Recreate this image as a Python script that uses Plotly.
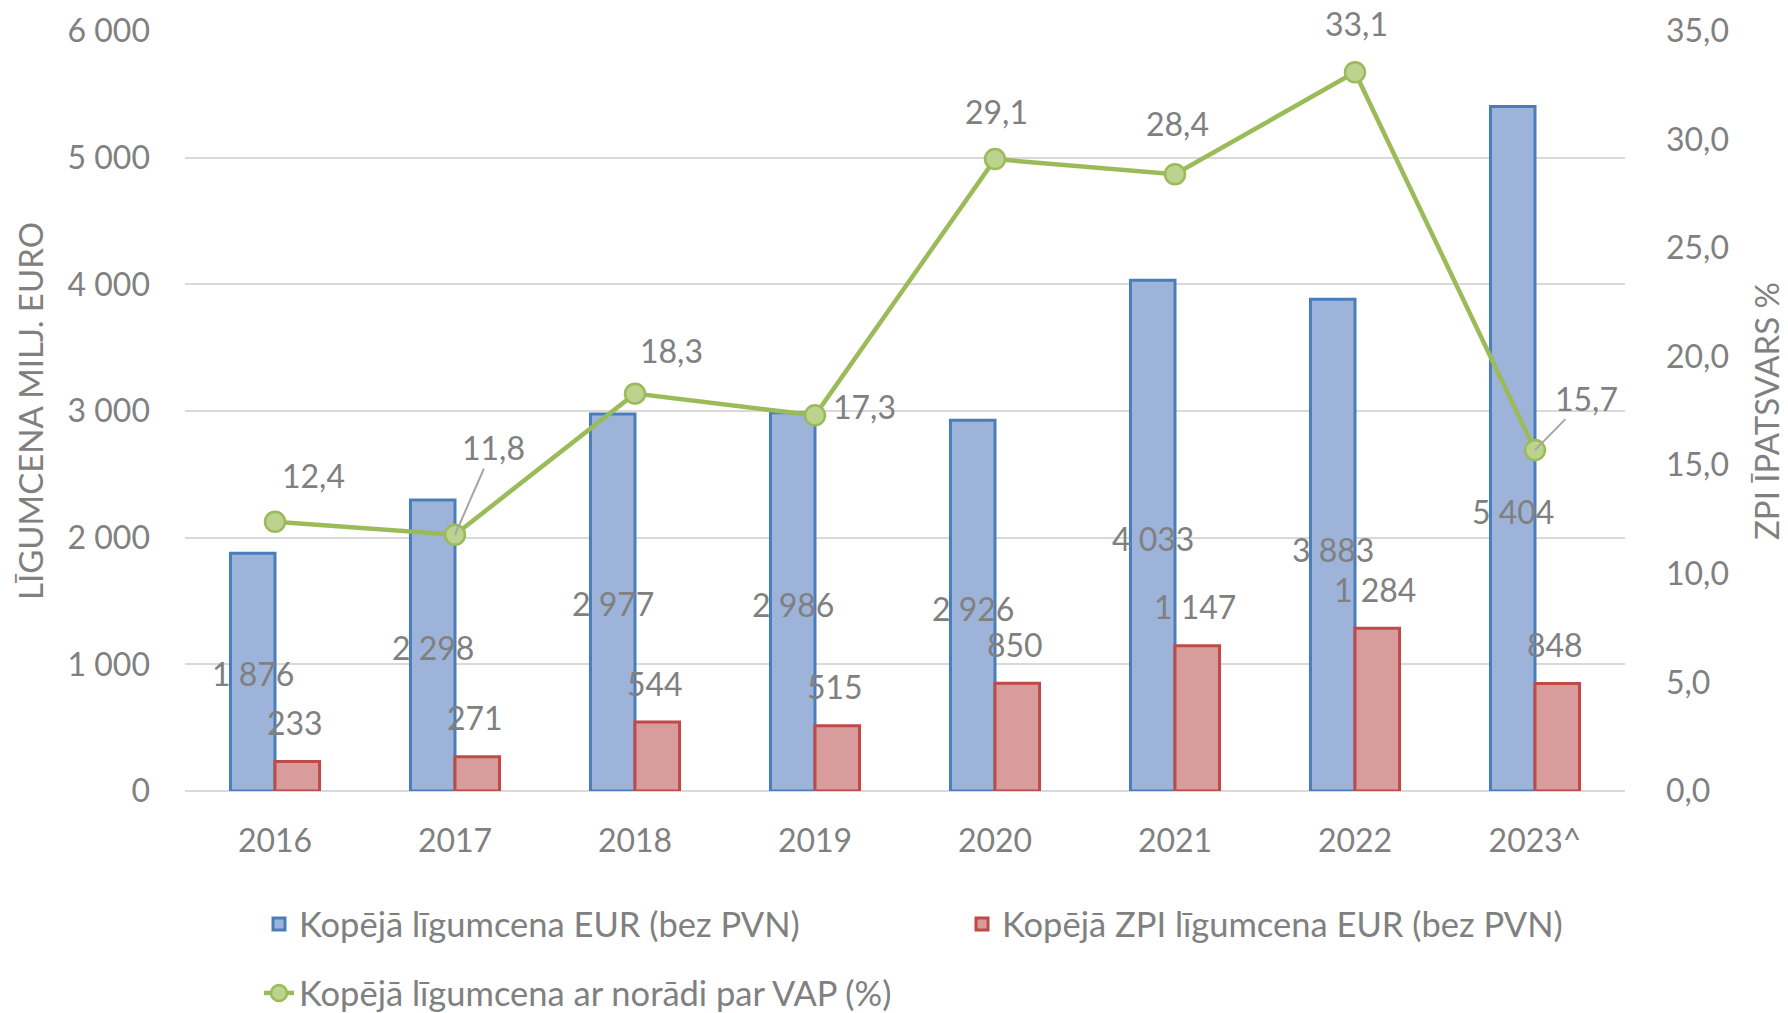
import plotly.graph_objects as go

# ---------------- data ----------------
years = ["2016", "2017", "2018", "2019", "2020", "2021", "2022", "2023^"]
total_value = [1876, 2298, 2977, 2986, 2926, 4033, 3883, 5404]
zpi_value = [233, 271, 544, 515, 850, 1147, 1284, 848]
zpi_share = [12.4, 11.8, 18.3, 17.3, 29.1, 28.4, 33.1, 15.7]

left_ticks = [0, 1000, 2000, 3000, 4000, 5000, 6000]
right_ticks = [0, 5, 10, 15, 20, 25, 30, 35]

name_total = "Kopējā līgumcena EUR (bez PVN)"
name_zpi = "Kopējā ZPI līgumcena EUR (bez PVN)"
name_share = "Kopējā līgumcena ar norādi par VAP (%)"

# ---------------- label placement (pixels, styling only) ----------------
total_label_dy = [-120, -148, -190, -192, -188, -258, -250, -405]
zpi_label_dy = [39, 39, 39, 39, 39, 39, 39, 39]
share_label_dx = [38, 38, 36, 49, 1, 2, 1, 51]
share_label_dy = [46, 87, 43, 9, 48, 51, 49, 52]
share_leader = [False, True, False, False, False, False, False, True]

# ---------------- layout geometry ----------------
W, H = 1788, 1013
ML, MR, MT, MB = 185, 163, 31, 222
plot_w = W - ML - MR
plot_h = H - MT - MB
bargap = 0.505
bar_w = plot_w / len(years) * (1 - bargap) / 2

FONT = "Lato, 'Open Sans', sans-serif"
GRAY = "#808080"
BLUE_FILL = "#9DB3D9"
BLUE_LINE = "#4A7EBB"
RED_FILL = "#D89C9C"
RED_LINE = "#BE4B48"
GREEN = "#9BBB59"
GREEN_FILL = "#BCD28F"


def fmt_int(v):
    return f"{v:,}".replace(",", " ")


def fmt_dec(v):
    return f"{v:.1f}".replace(".", ",")


fig = go.Figure()

fig.add_trace(go.Bar(
    x=years, y=total_value, name=name_total,
    marker=dict(color=BLUE_FILL, line=dict(color=BLUE_LINE, width=3)),
    legend="legend",
))
fig.add_trace(go.Bar(
    x=years, y=zpi_value, name=name_zpi,
    marker=dict(color=RED_FILL, line=dict(color=RED_LINE, width=3)),
    legend="legend2",
))
fig.add_trace(go.Scatter(
    x=years, y=zpi_share, name=name_share, yaxis="y2",
    mode="lines+markers",
    line=dict(color=GREEN, width=4.5),
    marker=dict(size=20, color=GREEN_FILL, line=dict(color=GREEN, width=2.5)),
    legend="legend3",
))

annotations = []
for i, yr in enumerate(years):
    # category index i is the position of category years[i] on the x axis
    annotations.append(dict(
        x=i, y=total_value[i], xref="x", yref="y",
        text=fmt_int(total_value[i]), showarrow=False,
        xshift=-bar_w / 2, yshift=total_label_dy[i],
        font=dict(family=FONT, size=32, color=GRAY),
    ))
    annotations.append(dict(
        x=i, y=zpi_value[i], xref="x", yref="y",
        text=fmt_int(zpi_value[i]), showarrow=False,
        xshift=bar_w / 2 - 2, yshift=zpi_label_dy[i],
        font=dict(family=FONT, size=32, color=GRAY),
    ))
    if share_leader[i]:
        annotations.append(dict(
            x=i, y=zpi_share[i], xref="x", yref="y2",
            text=fmt_dec(zpi_share[i]), showarrow=True,
            arrowhead=0, arrowwidth=2, arrowcolor="#A6A6A6",
            ax=share_label_dx[i], ay=-share_label_dy[i], standoff=0,
            font=dict(family=FONT, size=32, color=GRAY),
        ))
    else:
        annotations.append(dict(
            x=i, y=zpi_share[i], xref="x", yref="y2",
            text=fmt_dec(zpi_share[i]), showarrow=False,
            xshift=share_label_dx[i], yshift=share_label_dy[i],
            font=dict(family=FONT, size=32, color=GRAY),
        ))

legend_common = dict(
    orientation="h", yanchor="middle", xanchor="left",
    font=dict(family=FONT, size=34.5, color=GRAY),
    bgcolor="rgba(0,0,0,0)", itemwidth=30,
)

row1 = (MT + plot_h - 924) / plot_h
row2 = (MT + plot_h - 993) / plot_h

fig.update_layout(
    width=W, height=H,
    margin=dict(l=ML, r=MR, t=MT, b=MB, pad=0, autoexpand=False),
    paper_bgcolor="white", plot_bgcolor="white",
    separators=", ",
    barmode="group", bargap=bargap, bargroupgap=0,
    font=dict(family=FONT, size=32, color=GRAY),
    xaxis=dict(
        type="category", showgrid=False, showline=False, zeroline=False,
        ticks="", tickfont=dict(family=FONT, size=32, color=GRAY),
        ticklabelstandoff=28,
    ),
    yaxis=dict(
        range=[0, 6000], tickvals=left_ticks, tickformat=",d",
        showgrid=True, gridcolor="#D9D9D9", gridwidth=2,
        zeroline=True, zerolinecolor="#D9D9D9", zerolinewidth=2,
        showline=False, ticks="",
        tickfont=dict(family=FONT, size=32, color=GRAY),
        ticklabelstandoff=34,
        title=dict(text="LĪGUMCENA MILJ. EURO",
                   font=dict(family=FONT, size=33, color=GRAY), standoff=14),
    ),
    yaxis2=dict(
        range=[0, 35], tickvals=right_ticks, tickformat=".1f",
        overlaying="y", side="right", showgrid=False, zeroline=False,
        showline=False, ticks="",
        tickfont=dict(family=FONT, size=32, color=GRAY),
        ticklabelstandoff=40,
        title=dict(text="ZPI ĪPATSVARS %",
                   font=dict(family=FONT, size=33, color=GRAY), standoff=27),
    ),
    legend=dict(x=(259 - ML) / plot_w, y=row1, **legend_common),
    legend2=dict(x=(962 - ML) / plot_w, y=row1, **legend_common),
    legend3=dict(x=(259 - ML) / plot_w, y=row2, **legend_common),
    annotations=annotations,
    showlegend=True,
)

fig.write_html(
    "out.html",
    config={"displayModeBar": False},
    post_script="document.body.style.margin='0';document.body.style.overflow='hidden';",
)
